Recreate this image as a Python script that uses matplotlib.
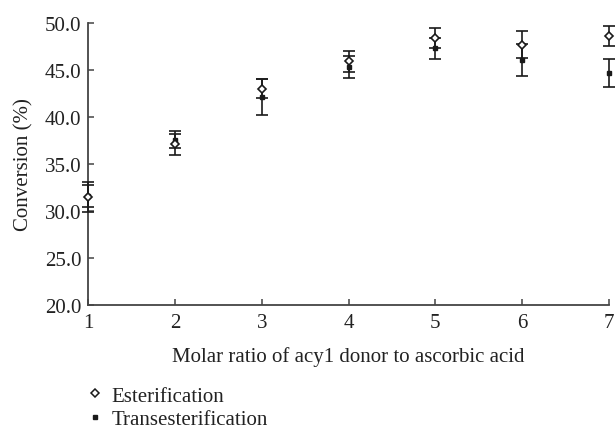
import matplotlib
matplotlib.use("Agg")
import matplotlib.pyplot as plt
from matplotlib.lines import Line2D

ratio = [1, 2, 3, 4, 5, 6, 7]
ester = [31.5, 37.1, 43.0, 45.9, 48.4, 47.7, 48.6]
ester_err = [1.6, 1.1, 1.0, 1.15, 1.1, 1.4, 1.1]
trans = [31.6, 37.6, 42.1, 45.3, 47.3, 46.1, 44.7]
trans_err = [1.2, 0.9, 1.9, 1.2, 1.1, 1.7, 1.5]
yticks = [20, 25, 30, 35, 40, 45, 50]

FS = 15
plt.rcParams['font.family'] = ['Liberation Serif', 'DejaVu Serif']
fig = plt.figure(figsize=(6.16, 4.35), dpi=100)
ax = fig.add_axes([0.143, 0.2966, 0.8456, 0.6484])

eb1 = ax.errorbar(ratio, trans, yerr=trans_err, fmt='s', color='#1a1a1a', ms=3.5,
                  ecolor='#1a1a1a', elinewidth=1.2, capsize=4.5, capthick=1.2, zorder=3)
eb2 = ax.errorbar(ratio, ester, yerr=ester_err, fmt='D', mfc='white', mec='#1a1a1a', ms=4.5, mew=1.2,
                  ecolor='#1a1a1a', elinewidth=1.2, capsize=4.5, capthick=1.2, zorder=4)
for eb in (eb1, eb2):
    for art in eb.get_children():
        art.set_clip_on(False)

ax.set_xlim(1, 7)
ax.set_ylim(20, 50)
ax.set_xticks(ratio)
ax.set_yticks(yticks)
ax.set_yticklabels([f"{v:.1f}" for v in yticks])
for s in ['top', 'right']:
    ax.spines[s].set_visible(False)
for s in ['left', 'bottom']:
    ax.spines[s].set_color('#444444')
    ax.spines[s].set_linewidth(1.3)
ax.tick_params(axis='both', direction='in', length=4, width=1.1, color='#444444',
               labelsize=FS, labelcolor='#222222')
ax.tick_params(axis='x', pad=6)
ax.tick_params(axis='y', pad=5)
ax.set_xlabel('Molar ratio of acy1 donor to ascorbic acid', fontsize=FS, color='#222222', labelpad=10)
ax.set_ylabel('Conversion (%)', fontsize=FS, color='#222222', labelpad=8)

handles = [Line2D([], [], ls='none', marker='D', mfc='white', mec='#1a1a1a', ms=4, mew=1.1),
           Line2D([], [], ls='none', marker='s', color='#1a1a1a', ms=3.5)]
fig.legend(handles, ['Esterification', 'Transesterification'], loc='upper left',
           bbox_to_anchor=(0.139, 0.11), frameon=False, fontsize=FS, handlelength=0.9,
           handletextpad=0.35, labelspacing=0.2, borderaxespad=0, borderpad=0,
           labelcolor='#222222')

fig.savefig('out.png', dpi=100)
